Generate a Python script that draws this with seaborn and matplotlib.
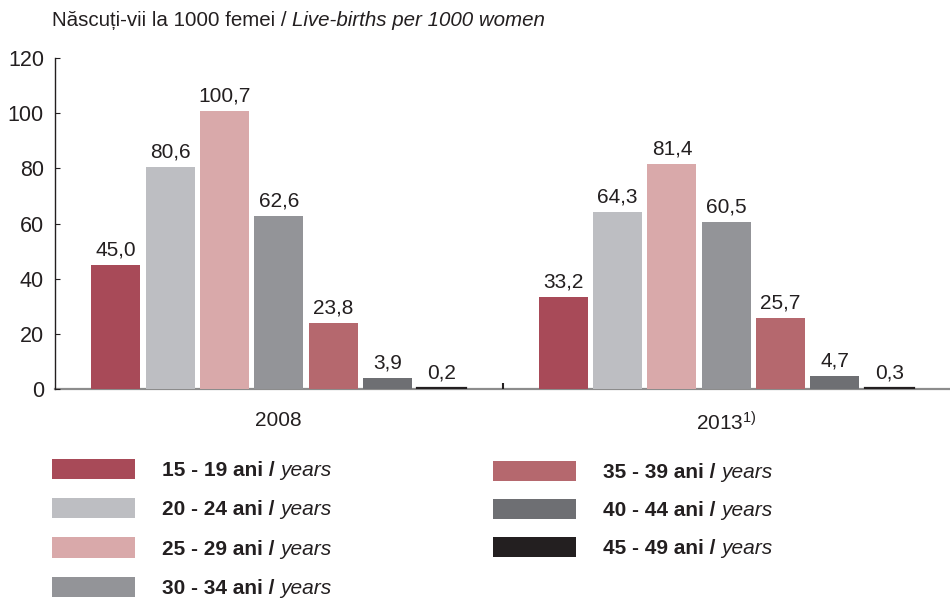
import matplotlib
matplotlib.use("Agg")
import matplotlib.pyplot as plt
import seaborn as sns
import pandas as pd
from matplotlib.patches import Patch
from matplotlib.ticker import FixedLocator

# ---------------- data ----------------
years = ["2008", "2013"]
year_labels = ["2008", "2013$^{1)}$"]
age_groups = ["15 - 19", "20 - 24", "25 - 29", "30 - 34", "35 - 39", "40 - 44", "45 - 49"]
values_2008 = [45.0, 80.6, 100.7, 62.6, 23.8, 3.9, 0.2]
values_2013 = [33.2, 64.3, 81.4, 60.5, 25.7, 4.7, 0.3]
colors = ["#A84A58", "#BDBEC2", "#D9A9AA", "#939498", "#B5686E", "#6E6F73", "#231F20"]
title_ro = "Născuți-vii la 1000 femei / "
title_en = "Live-births per 1000 women"

rows = []
for y, vals in zip(years, [values_2008, values_2013]):
    for a, v in zip(age_groups, vals):
        rows.append({"year": y, "age": a, "value": v})
df = pd.DataFrame(rows)

sns.set_style("white")
plt.rcParams["font.family"] = ["Liberation Sans", "DejaVu Sans"]
plt.rcParams["mathtext.fontset"] = "custom"
plt.rcParams["mathtext.rm"] = "Liberation Sans"
plt.rcParams["mathtext.it"] = "Liberation Sans:italic"
plt.rcParams["mathtext.bf"] = "Liberation Sans:bold"

TXT = "#231F20"
fig = plt.figure(figsize=(9.5, 6.01), dpi=100)
ax = fig.add_axes([55 / 950, 1 - 389 / 601, 1 - 55 / 950, (389 - 58) / 601])

sns.barplot(data=df, x="year", y="value", hue="age", hue_order=age_groups,
            palette=colors, saturation=1, width=0.85, gap=0.1,
            linewidth=0, legend=False, ax=ax, errorbar=None)

# make the tiny bars visible as thin strokes (like the reference)
for b in ax.containers[-1]:
    b.set_edgecolor(colors[-1])
    b.set_linewidth(1.6)

ax.set_xlim(-0.5, 1.5)
ax.set_ylim(0, 120)
ax.set_yticks([0, 20, 40, 60, 80, 100, 120])
ax.set_xlabel("")
ax.set_ylabel("")
ax.set_xticks([0, 1])
ax.set_xticklabels(year_labels)
ax.xaxis.set_minor_locator(FixedLocator([0.5]))

for s in ["top", "right"]:
    ax.spines[s].set_visible(False)
ax.spines["left"].set_color(TXT)
ax.spines["left"].set_linewidth(1.0)
ax.spines["bottom"].set_color("#8C8C8C")
ax.spines["bottom"].set_linewidth(1.6)
ax.spines["bottom"].set_zorder(0.5)

ax.tick_params(axis="y", direction="in", length=3.5, width=0.8, color=TXT,
               labelsize=15.5, pad=8, labelcolor=TXT, left=True)
ax.tick_params(axis="x", which="major", length=0, labelsize=15, pad=16, labelcolor=TXT)
ax.tick_params(axis="x", which="minor", direction="in", length=4, width=1.5,
               color=TXT, bottom=True)

for cont in ax.containers:
    labels = [f"{b.get_height():.1f}".replace(".", ",") for b in cont]
    ax.bar_label(cont, labels=labels, padding=4, fontsize=15, color=TXT)

# title (mixed styles)
fig.canvas.draw()
r = fig.canvas.get_renderer()
t1 = fig.text(52 / 950, 1 - 20 / 601, title_ro, fontsize=14.8, color=TXT,
              va="center", ha="left")
fig.canvas.draw()
bb = t1.get_window_extent(r)
fig.text(bb.x1 / fig.bbox.width, 1 - 20 / 601, title_en, fontsize=14.8, style="italic",
         color=TXT, va="center", ha="left")

# legend: two columns
fs = 15
fs_px = fs * 100 / 72
common = dict(frameon=False, handlelength=83 / fs_px, handleheight=23 / fs_px,
              handletextpad=27 / fs_px, borderpad=0, borderaxespad=0,
              prop={"weight": "bold", "size": fs})
handles = [Patch(facecolor=c, edgecolor="none") for c in colors]
labels = [f"{a} ani /" for a in age_groups]
leg1 = fig.legend(handles[:4], labels[:4], loc="upper left", labelspacing=0.87,
                  bbox_to_anchor=(52 / 950, 1 - 459 / 601), **common)
leg2 = fig.legend(handles[4:], labels[4:], loc="upper left", labelspacing=0.8,
                  bbox_to_anchor=(493 / 950, 1 - 461 / 601), **common)
fig.canvas.draw()
for leg in (leg1, leg2):
    for t in leg.get_texts():
        t.set_color(TXT)
        b = t.get_window_extent(r)
        fig.text((b.x1 + 6) / fig.bbox.width, b.y0 / fig.bbox.height, "years",
                 fontsize=fs, style="italic", color=TXT, va="bottom", ha="left")

fig.savefig("out.png", dpi=100)
